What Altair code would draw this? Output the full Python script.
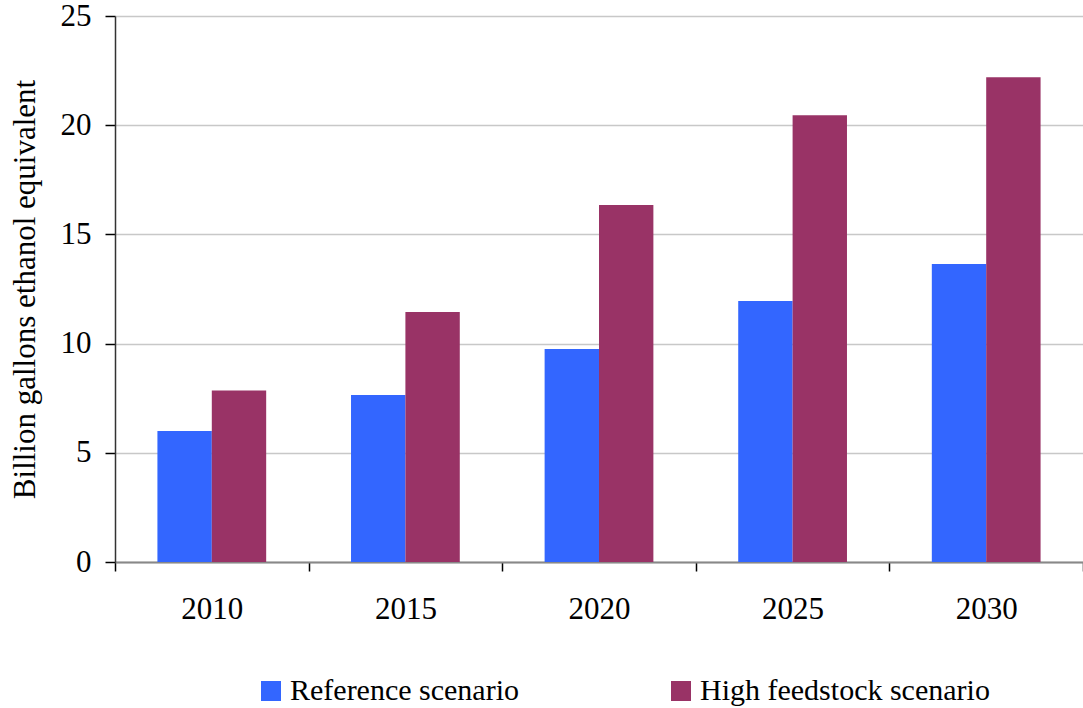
import altair as alt
import pandas as pd

# Projected biofuel production, billion gallons ethanol equivalent
years = ["2010", "2015", "2020", "2025", "2030"]
reference = [6.0, 7.65, 9.75, 11.95, 13.65]
high_feedstock = [7.85, 11.45, 16.35, 20.45, 22.2]
series = ["Reference scenario", "High feedstock scenario"]
colors = ["#3366FF", "#993366"]

rows = []
for y, r, h in zip(years, reference, high_feedstock):
    rows.append({"year": y, "scenario": series[0], "value": r})
    rows.append({"year": y, "scenario": series[1], "value": h})
df = pd.DataFrame(rows)

FONT = "Liberation Serif"

bars = alt.Chart(df).mark_bar().encode(
    x=alt.X(
        "year:N",
        sort=years,
        scale=alt.Scale(paddingInner=0, paddingOuter=0),
        axis=alt.Axis(
            title=None,
            labelAngle=0,
            labelFont=FONT,
            labelFontSize=31,
            labelColor="black",
            labelPadding=23,
            tickBand="extent",
            tickColor="black",
            tickSize=9,
            tickWidth=1.5,
            domainColor="#888888",
            domainWidth=2,
            grid=False,
        ),
    ),
    # the pair of bars sits in the middle of each year's slot
    xOffset=alt.XOffset("scenario:N", sort=series,
                        scale=alt.Scale(paddingInner=0, paddingOuter=0.78)),
    y=alt.Y(
        "value:Q",
        scale=alt.Scale(domain=[0, 25], nice=False),
        axis=alt.Axis(
            title="Billion gallons ethanol equivalent",
            titleFont=FONT,
            titleFontSize=31,
            titleFontWeight="normal",
            titleColor="black",
            titlePadding=19,
            values=[0, 5, 10, 15, 20, 25],
            labelFont=FONT,
            labelFontSize=31,
            labelColor="black",
            labelPadding=14,
            tickColor="black",
            tickSize=10,
            tickWidth=1.5,
            domainColor="#333333",
            domainWidth=1.5,
            gridColor="#c8c8c8",
            gridWidth=1.5,
        ),
    ),
    color=alt.Color(
        "scenario:N",
        sort=series,
        scale=alt.Scale(domain=series, range=colors),
        legend=alt.Legend(
            title=None,
            orient="none",
            direction="horizontal",
            legendX=141,
            legendY=660,
            symbolType="square",
            symbolSize=400,
            symbolStrokeWidth=0,
            symbolOpacity=1,
            labelFont=FONT,
            labelFontSize=30,
            labelColor="black",
            labelOffset=4,
            labelLimit=400,
            columnPadding=146,
            padding=0,
        ),
    ),
)

chart = bars.properties(
    width=968,
    height=546,
    autosize=alt.AutoSizeParams(type="none"),
    padding={"left": 115, "top": 16, "right": 0, "bottom": 146},
    background="white",
).configure_view(stroke=None)

chart.save("out.html", embed_options={"renderer": "svg", "actions": False})
